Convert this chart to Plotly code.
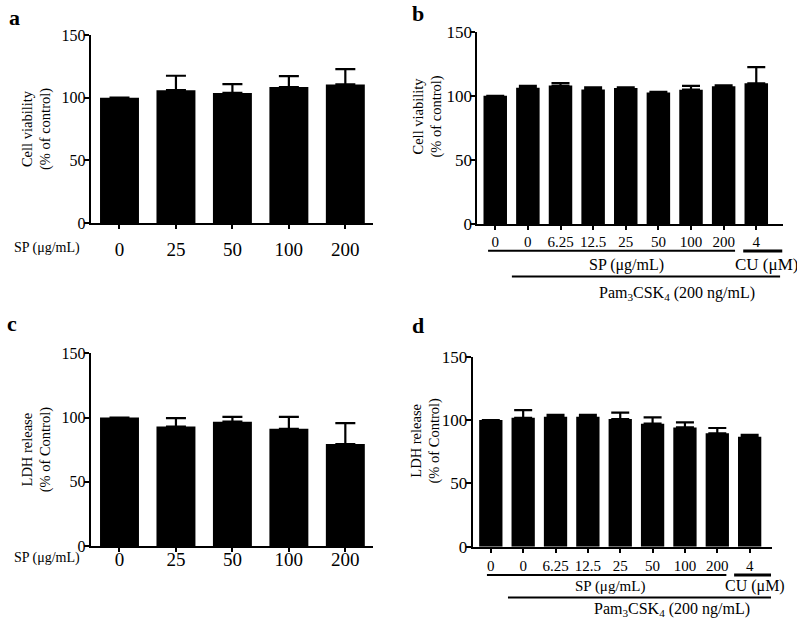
import plotly.graph_objects as go

W, H = 797, 625

# ---------------- data ----------------
a_labels = ["0", "25", "50", "100", "200"]
a_values = [100, 106, 103.8, 108.5, 110.6]
a_errors = [0, 11.5, 7.0, 8.7, 12.2]

b_labels = ["0", "0", "6.25", "12.5", "25", "50", "100", "200", "4"]
b_values = [100, 106.2, 108.0, 105.0, 106.0, 102.5, 104.8, 107.5, 109.8]
b_errors = [0, 1.6, 2.0, 1.5, 0.6, 0.5, 3.0, 0.7, 12.6]

c_labels = ["0", "25", "50", "100", "200"]
c_values = [100, 93.0, 96.8, 91.2, 79.4]
c_errors = [0, 6.5, 3.7, 9.3, 16.2]

d_labels = ["0", "0", "6.25", "12.5", "25", "50", "100", "200", "4"]
d_values = [100, 101.8, 102.6, 102.6, 100.8, 97.1, 94.2, 89.5, 86.8]
d_errors = [0, 6.0, 1.4, 1.4, 5.0, 5.0, 4.0, 4.2, 1.6]

FONT = "Liberation Serif, Times New Roman, serif"


def px_x(p):
    return p / W


def px_y(p):
    return 1 - p / H


fig = go.Figure()

panels = [
    # labels, values, errors, xaxis, yaxis, bar width, cap
    (a_labels, a_values, a_errors, "x", "y", 0.69, 10),
    (b_labels, b_values, b_errors, "x2", "y2", 0.72, 9),
    (c_labels, c_values, c_errors, "x3", "y3", 0.69, 10),
    (d_labels, d_values, d_errors, "x4", "y4", 0.72, 9),
]

for labels, vals, errs, xa, ya, bw, cap in panels:
    fig.add_trace(go.Bar(
        x=list(range(len(labels))), y=vals,
        width=bw,
        marker=dict(color="black", line=dict(width=0)),
        error_y=dict(type="data", array=errs, arrayminus=[0] * len(errs),
                     symmetric=False, color="black", thickness=2.2, width=cap),
        xaxis=xa, yaxis=ya, showlegend=False, hoverinfo="skip",
    ))


def yaxis(domain, anchor, title, standoff, fsize):
    d = dict(
        domain=domain, anchor=anchor, range=[0, 150],
        tickvals=[0, 50, 100, 150], ticks="outside", ticklen=5, tickwidth=2,
        tickcolor="black", showline=True, linecolor="black", linewidth=2,
        showgrid=False, zeroline=False, fixedrange=True,
        tickfont=dict(family=FONT, size=fsize, color="black"),
        ticklabelstandoff=-5,
        automargin=False,
    )
    if title:
        d["title"] = dict(text=title, font=dict(family=FONT, size=14.5, color="black"),
                          standoff=standoff)
    return d


def xaxis(domain, anchor, labels, rng, fsize, lstand):
    return dict(
        domain=domain, anchor=anchor, range=rng,
        tickvals=list(range(len(labels))), ticktext=labels,
        ticks="outside", ticklen=4, tickwidth=2, tickcolor="black",
        showline=True, linecolor="black", linewidth=2,
        showgrid=False, zeroline=False, fixedrange=True,
        tickfont=dict(family=FONT, size=fsize, color="black"),
        ticklabelstandoff=lstand,
        automargin=False,
    )


cv_title = "Cell viability<br>(% of control)"
ldh_title = "LDH release<br>(% of Control)"

fig.update_layout(
    width=W, height=H,
    margin=dict(l=0, r=0, t=0, b=0),
    paper_bgcolor="white", plot_bgcolor="white",
    bargap=0.3,
    xaxis=xaxis([px_x(90.7), px_x(373)], "y", a_labels, [-0.51, 4.49], 19, 4),
    yaxis=yaxis([px_y(223), px_y(35)], "x", cv_title, 7, 16),
    xaxis2=xaxis([px_x(477.3), px_x(782.7)], "y2", b_labels, [-0.55, 8.81], 15, -1),
    yaxis2=yaxis([px_y(224), px_y(31.7)], "x2", None, 2, 17),
    xaxis3=xaxis([px_x(90.7), px_x(373)], "y3", c_labels, [-0.51, 4.49], 19, -9),
    yaxis3=yaxis([px_y(546), px_y(353.3)], "x3", ldh_title, 7, 16),
    xaxis4=xaxis([px_x(472.7), px_x(772.3)], "y4", d_labels, [-0.56, 8.70], 15, 0),
    yaxis4=yaxis([px_y(546.7), px_y(356.7)], "x4", None, 1, 17),
)

shapes = []
annotations = []

# y titles of b and d (placed as in the reference, slightly above axis centre)
for txt, xp, yp in [(cv_title, 427.5, 117), (ldh_title, 425.5, 441)]:
    annotations.append(dict(text=txt, x=px_x(xp), y=px_y(yp), xref="paper", yref="paper",
                            showarrow=False, textangle=-90, xanchor="center",
                            yanchor="middle",
                            font=dict(family=FONT, size=14.5, color="black")))

# panel letters
for letter, xp, yp in [("a", 14, 17), ("b", 418, 14), ("c", 12, 323), ("d", 418, 325)]:
    annotations.append(dict(text=f"<b>{letter}</b>", x=px_x(xp), y=px_y(yp),
                            xref="paper", yref="paper", showarrow=False,
                            xanchor="center", yanchor="middle",
                            font=dict(family=FONT, size=22, color="black")))

# "SP (μg/mL)" row labels on a and c
for yp in [248, 558]:
    annotations.append(dict(text="SP (μg/mL)", x=px_x(82), y=px_y(yp),
                            xref="paper", yref="paper", showarrow=False,
                            xanchor="right", yanchor="middle",
                            font=dict(family=FONT, size=14, color="black")))

# group lines and labels on b and d
groups = [
    # xref, sp line (x0,x1,y), cu line (x0,x1,y), sp text (x,y,size), cu text (x,y,size),
    # pam line (x0,x1,y), pam text (x,y)
    ("x2", (-0.22, 7.35, 250.7), (7.6, 8.8, 251), (4.01, 265, 16), (8.31, 265, 17),
     (0.51, 8.73, 276.5), (5.57, 294)),
    ("x4", (-0.12, 7.28, 575), (7.52, 8.66, 575), (3.68, 586, 15), (8.16, 586, 16),
     (0.53, 8.66, 597.5), (5.6, 609)),
]
for xr, sp, cu, spt, cut, pam, pamt in groups:
    shapes.append(dict(type="line", xref=xr, yref="paper", x0=sp[0], x1=sp[1],
                       y0=px_y(sp[2]), y1=px_y(sp[2]), line=dict(color="black", width=2)))
    shapes.append(dict(type="line", xref=xr, yref="paper", x0=cu[0], x1=cu[1],
                       y0=px_y(cu[2]), y1=px_y(cu[2]), line=dict(color="black", width=3)))
    shapes.append(dict(type="line", xref=xr, yref="paper", x0=pam[0], x1=pam[1],
                       y0=px_y(pam[2]), y1=px_y(pam[2]), line=dict(color="black", width=2)))
    annotations.append(dict(text="SP (μg/mL)", x=spt[0], y=px_y(spt[1]), xref=xr, yref="paper",
                            showarrow=False, xanchor="center", yanchor="middle",
                            font=dict(family=FONT, size=spt[2], color="black")))
    annotations.append(dict(text="CU (μM)", x=cut[0], y=px_y(cut[1]), xref=xr, yref="paper",
                            showarrow=False, xanchor="center", yanchor="middle",
                            font=dict(family=FONT, size=cut[2], color="black")))
    annotations.append(dict(text="Pam<sub>3</sub>CSK<sub>4</sub> (200 ng/mL)", x=pamt[0],
                            y=px_y(pamt[1]), xref=xr, yref="paper",
                            showarrow=False, xanchor="center", yanchor="middle",
                            font=dict(family=FONT, size=16, color="black")))

fig.update_layout(shapes=shapes, annotations=annotations)

fig.write_html("out.html", config={"displayModeBar": False},
               post_script="document.body.style.margin='0px';document.body.style.overflow='hidden';")
